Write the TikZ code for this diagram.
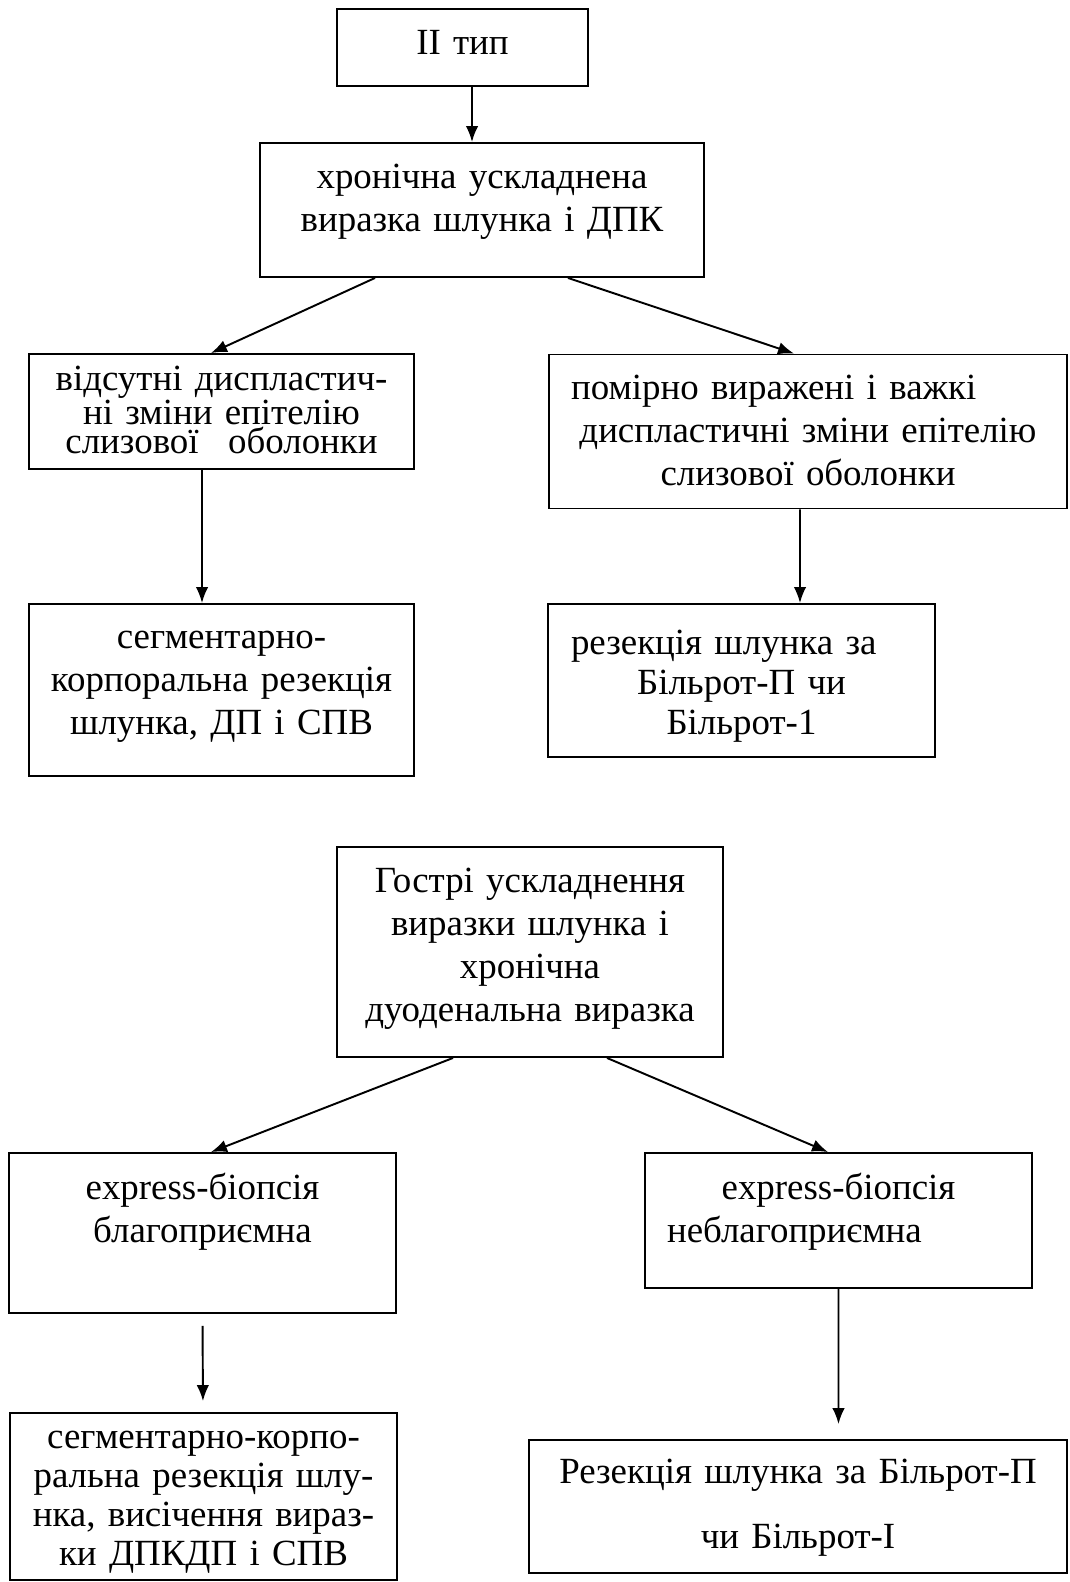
\documentclass[tikz,border=0pt]{standalone}
\usepackage{fontspec}
\setmainfont{Liberation Serif}
\usetikzlibrary{arrows.meta,positioning}
\setlength{\lineskiplimit}{-30pt}

\tikzset{
  box/.style={draw, line width=1.1pt, align=center, inner sep=2pt, text height=0.5cm,
    font=\fontsize{21pt}{24.5pt}\selectfont},
  arr/.style={-{Latex[length=0.32cm,width=0.25cm]}, line width=1.1pt},
}

\begin{document}
\begin{tikzpicture}[x=0.02cm, y=-0.02cm]
    \useasboundingbox (0,0) rectangle (1069,1582);
    % Nodes
    \node[box, minimum width=5.02cm, minimum height=1.54cm, text width=4.6cm, text depth=0.2cm] (type) at (462.5,47.5) {II тип};
    \node[box, minimum width=8.88cm, minimum height=2.68cm, text width=8.4cm, text depth=1.38cm] (chronic) at (482,210) {хронічна ускладнена\\виразка шлунка і ДПК};
    \node[box, minimum width=7.7cm, minimum height=2.3cm, text width=7.3cm, text depth=1.36cm,
      font=\fontsize{21pt}{16.8pt}\selectfont] (nodysp) at (221.5,411.5) {відсутні диспластич-\\ні зміни епітелію\\слизової\hspace{0.8em}оболонки};
    \node[box, minimum width=10.36cm, minimum height=3.08cm, text width=9.48cm, text depth=1.8cm] (dysp) at (808,431.5) {помірно виражені і важкі\hfill\null\\диспластичні зміни епітелію\\слизової оболонки};
    \node[box, minimum width=7.7cm, minimum height=3.44cm, text width=7.3cm, text depth=2.18cm] (segres) at (221.5,690) {сегментарно-\\корпоральна резекція\\шлунка, ДП і СПВ};
    \node[box, minimum width=7.74cm, minimum height=3.06cm, text width=6.82cm, text depth=1.56cm,
      font=\fontsize{21pt}{22.8pt}\selectfont] (resbil) at (741.5,680.5) {резекція шлунка за\hfill\null\\Більрот-П чи\\Більрот-1};

    \node[box, minimum width=7.72cm, minimum height=4.2cm, text width=7.3cm, text depth=2.9cm] (acute) at (530,952) {Гострі ускладнення\\виразки шлунка і\\хронічна\\дуоденальна виразка};
    \node[box, minimum width=7.74cm, minimum height=3.2cm, text width=7.3cm, text depth=1.86cm] (favour) at (202.5,1233) {express-біопсія\\благоприємна};
    \node[box, minimum width=7.74cm, minimum height=2.7cm, text width=6.86cm, text depth=1.36cm] (unfavour) at (838.5,1220.5) {express-біопсія\\неблагоприємна\hfill\null};
    \node[box, minimum width=7.74cm, minimum height=3.34cm, text width=7.3cm, text depth=2.44cm,
      font=\fontsize{21pt}{22.3pt}\selectfont] (segexc) at (203.5,1496.5) {сегментарно-корпо-\\ральна резекція шлу-\\нка, висічення вираз-\\ки ДПКДП і СПВ};
    \node[box, minimum width=10.76cm, minimum height=2.66cm, text width=10.3cm, text depth=1.44cm,
      font=\fontsize{21pt}{37pt}\selectfont] (resbil2) at (798,1506.5) {Резекція шлунка за Більрот-П\\чи Більрот-І};

    % Arrows
    \draw[arr] ([xshift=0.19cm]type.south) -- ([xshift=-0.2cm]chronic.north);
    \draw[arr] ([xshift=-2.14cm]chronic.south) -- ([xshift=-0.21cm]nodysp.north);
    \draw[arr] ([xshift=1.72cm]chronic.south) -- ([xshift=-0.28cm]dysp.north);
    \draw[arr] ([xshift=-0.39cm]nodysp.south) -- ([xshift=-0.39cm]segres.north);
    \draw[arr] ([xshift=-0.16cm]dysp.south) -- ([xshift=1.17cm]resbil.north);

    \draw[arr] ([xshift=-1.54cm]acute.south) -- ([xshift=0.17cm]favour.north);
    \draw[arr] ([xshift=1.54cm]acute.south) -- ([xshift=-0.21cm]unfavour.north);
    \draw[arr, shorten <=0.24cm, shorten >=0.22cm] (favour.south) -- ([xshift=-0.01cm]segexc.north);
    \draw[arr, shorten >=0.3cm] (unfavour.south) -- ([xshift=0.81cm]resbil2.north);
\end{tikzpicture}
\end{document}
